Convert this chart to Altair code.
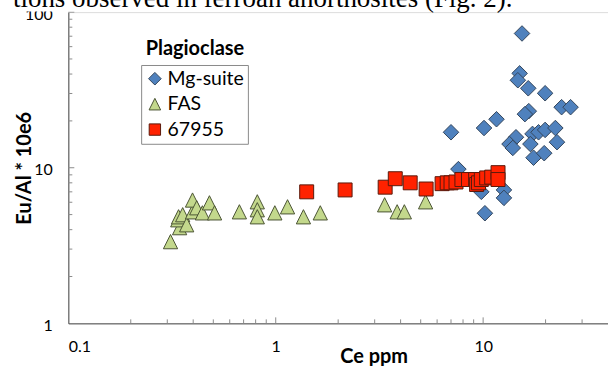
import altair as alt
import pandas as pd

# ---------------- data ----------------
series = ["Mg-suite", "FAS", "67955"]

mg_ce = [15.4, 15.0, 14.7, 16.5, 19.9, 23.9, 26.4, 16.6, 15.9, 7.0, 10.1, 11.6, 14.4, 13.4,
         13.9, 17.3, 18.5, 19.9, 22.3, 22.7, 16.9, 17.5, 19.7, 7.6, 9.8, 12.6, 12.6, 10.2]
mg_eu = [72.9, 40.4, 36.5, 32.4, 30.1, 24.5, 24.5, 23.1, 22.1, 16.9, 18.0, 20.5, 15.7, 14.2,
         13.4, 16.5, 16.9, 17.5, 18.0, 14.6, 14.2, 11.6, 12.4, 9.8, 7.0, 7.2, 6.4, 5.1]

fas_ce = [0.311, 0.344, 0.337, 0.340, 0.356, 0.372, 0.397, 0.397, 0.416, 0.443, 0.479, 0.507,
          0.668, 0.815, 0.815, 0.815, 0.99, 1.14, 1.36, 1.64, 3.35, 3.85, 4.17, 5.28]
fas_eu = [3.35, 4.12, 4.63, 4.84, 4.99, 4.30, 5.21, 6.20, 5.53, 5.13, 5.95, 5.13,
          5.21, 6.04, 5.37, 4.84, 5.13, 5.61, 4.84, 5.13, 5.78, 5.21, 5.21, 6.04]

s67955_ce = [1.41, 2.16, 3.37, 3.77, 4.45, 5.31, 6.34, 6.71, 7.0, 7.4, 7.9, 8.5, 9.2, 9.3,
             9.5, 9.8, 10.4, 11.0, 11.8, 11.8]
s67955_eu = [7.0, 7.2, 7.5, 8.5, 8.0, 7.3, 7.9, 8.0, 8.0, 8.1, 8.4, 8.4, 8.4, 7.8,
             8.0, 8.4, 8.6, 8.7, 9.3, 8.4]

x_major_ticks = [1, 10]
x_minor_ticks = [0.2, 0.3, 0.4, 0.5, 0.6, 0.7, 0.8, 0.9, 2, 3, 4, 5, 6, 7, 8, 9, 20, 30]
y_major_ticks = [10, 100]
y_minor_ticks = [2, 3, 4, 5, 6, 7, 8, 9, 20, 30, 40, 50, 60, 70, 80, 90]
x_labels = [0.1, 1, 10]
y_labels = [1, 10, 100]

page_text = "tions observed in ferroan anorthosites (Fig. 2)."
legend_title = "Plagioclase"
x_title = "Ce ppm"
y_title = "Eu/Al * 10e6"

# ---------------- build table ----------------
rows = []
for name, xs, ys in [("Mg-suite", mg_ce, mg_eu), ("FAS", fas_ce, fas_eu), ("67955", s67955_ce, s67955_eu)]:
    for a, b in zip(xs, ys):
        rows.append({"Ce": a, "EuAl": b, "Series": name})
df = pd.DataFrame(rows)

W, H = 541, 312
FONT = "Lato"
x_scale = alt.Scale(type="log", domain=[0.1, 40], nice=False)
y_scale = alt.Scale(type="log", domain=[1, 100], nice=False)

x_axis = alt.Axis(
    title=x_title, values=x_labels, format="~g", ticks=False, grid=False,
    domainColor="#4a4a4a", labelFont=FONT, labelFontSize=16, labelColor="black",
    labelPadding=15, titleFont=FONT, titleFontSize=20, titleFontWeight="bold",
    titleColor="black", titleX=306, titleY=39, titleAlign="center",
    titleBaseline="alphabetic", zindex=0)
y_axis = alt.Axis(
    title=y_title, values=y_labels, format="~g", ticks=False, grid=False,
    domainColor="#4a4a4a", labelFont=FONT, labelFontSize=16, labelColor="black",
    labelPadding=16, labelOffset=2, titleFont=FONT, titleFontSize=20, titleFontWeight="bold",
    titleColor="black", titleX=-38, titleY=H / 2, titleAlign="center",
    titleBaseline="alphabetic", zindex=0)

shapes = ["M0,-1.09L1.09,0L0,1.09L-1.09,0Z", "M0,-1L1,1L-1,1Z", "M-0.98,-0.98L0.98,-0.98L0.98,0.98L-0.98,0.98Z"]
colors = ["#4F81BD", "#C3D88C", "#FF2200"]
strokes = ["#34465c", "#4b5434", "#5a1a0c"]

leg = alt.Legend(
    title=None, orient="none", legendX=73, legendY=53,
    strokeColor="#8a8a8a", fillColor="white", padding=4, rowPadding=4.5,
    labelFont=FONT, labelFontSize=19.5, labelColor="black", labelOffset=3,
    symbolSize=135, symbolStrokeWidth=1, symbolOpacity=1,
)

points = alt.Chart(df).mark_point(
    filled=True, opacity=1, strokeWidth=1, size=204
).encode(
    x=alt.X("Ce:Q", scale=x_scale, axis=x_axis),
    y=alt.Y("EuAl:Q", scale=y_scale, axis=y_axis),
    color=alt.Color("Series:N", scale=alt.Scale(domain=series, range=colors), legend=leg),
    shape=alt.Shape("Series:N", scale=alt.Scale(domain=series, range=shapes), legend=leg),
    stroke=alt.Stroke("Series:N", scale=alt.Scale(domain=series, range=strokes), legend=leg),
)


def xticks(vals, length):
    return alt.Chart(pd.DataFrame({"Ce": vals})).mark_rule(color="#8c8c8c", strokeWidth=1).encode(
        x=alt.X("Ce:Q", scale=x_scale, axis=x_axis), y=alt.value(H), y2=alt.value(H - length))


def yticks(vals, length):
    return alt.Chart(pd.DataFrame({"EuAl": vals})).mark_rule(color="#8c8c8c", strokeWidth=1).encode(
        y=alt.Y("EuAl:Q", scale=y_scale, axis=y_axis), x=alt.value(0), x2=alt.value(length))


one = pd.DataFrame({"k": [0]})
mask = alt.Chart(one).mark_rect(color="white").encode(
    x=alt.value(-69), x2=alt.value(W), y=alt.value(-12), y2=alt.value(-0.6))
top_text = alt.Chart(one).mark_text(
    font="Liberation Serif", fontSize=27, align="left", baseline="alphabetic", color="black"
).encode(x=alt.value(-55.5), y=alt.value(-4.7), text=alt.value(page_text))
leg_title = alt.Chart(one).mark_text(
    font=FONT, fontSize=20, fontWeight="bold", align="left", baseline="alphabetic", color="black"
).encode(x=alt.value(77.5), y=alt.value(43.3), text=alt.value(legend_title))

chart = alt.layer(
    points, xticks(x_major_ticks, 6), xticks(x_minor_ticks, 4),
    yticks(y_major_ticks, 6), yticks(y_minor_ticks, 4), mask, top_text, leg_title
).properties(
    width=W, height=H,
    autosize=alt.AutoSizeParams(type="none"),
    padding={"left": 68.5, "top": 11.7, "right": 0, "bottom": 42.3},
).configure_view(stroke=None).configure(background="white")

chart.save("out.html", embed_options={"renderer": "svg", "actions": False})
